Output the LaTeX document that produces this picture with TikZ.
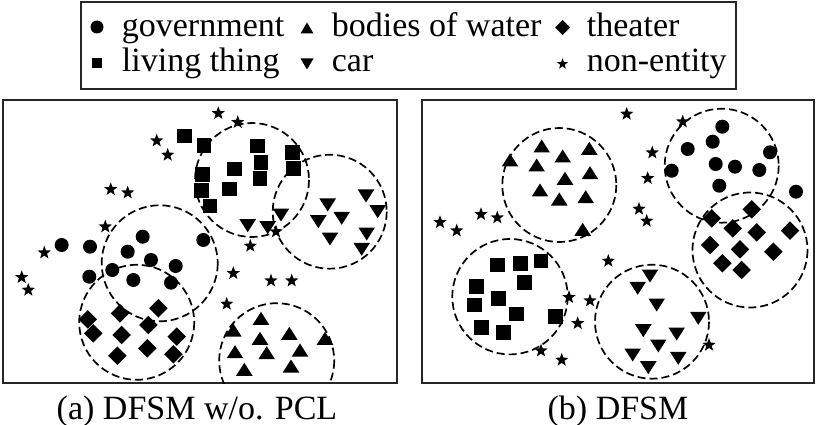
\documentclass[tikz,border=0pt]{standalone}
\usepackage{fontspec}
\setmainfont{Liberation Serif}
\usetikzlibrary{shapes.geometric}
\begin{document}
\begin{tikzpicture}[x=1pt,y=-1pt,
 mk/.style={fill=black, draw=none, inner sep=0pt, outer sep=0pt},
 mcirc/.style={mk, circle, minimum size=14pt},
 msq/.style={mk, rectangle, minimum size=14.5pt},
 mdia/.style={mk, diamond, minimum size=18.5pt},
 mstar/.style={mk, star, star points=5, star point ratio=2.4, minimum size=14pt},
 cluster/.style={draw=black, dash pattern=on 8pt off 4pt, line width=1.7pt},
 panel/.style={draw=black!85, line width=1.8pt},
 lab/.style={font=\fontsize{34}{40}\selectfont, inner sep=0pt, anchor=base west},
 captxt/.style={font=\fontsize{34}{40}\selectfont, inner sep=0pt, anchor=base},
]
\useasboundingbox (0,0) rectangle (817,425);
\def\upT#1#2#3#4{\fill (#1-#3,#2+#4) -- (#1+#3,#2+#4) -- (#1,#2-#4) -- cycle;}
\def\dnT#1#2#3#4{\fill (#1-#3,#2-#4) -- (#1+#3,#2-#4) -- (#1,#2+#4) -- cycle;}

% legend
\draw[panel] (81,2) rectangle (736,89);
\node[mcirc, minimum size=13pt] (lg1) at (97,27) {};
\node[lab] (lt1) at (121.7,36.5) {government};
\upT{307}{28}{6.5}{5.5}
\node[lab] (lt2) at (331.7,36.5) {bodies of water};
\node[mdia, minimum size=15pt] (lg3) at (562.5,27.5) {};
\node[lab] (lt3) at (586.7,36.5) {theater};
\node[msq, minimum size=10pt] (lg4) at (97,63.5) {};
\node[lab] (lt4) at (121.7,71.5) {living thing};
\dnT{307}{64}{6.5}{5.5}
\node[lab] (lt5) at (331.7,71.5) {car};
\node[mstar, minimum size=11.5pt] (lg6) at (562.5,64) {};
\node[lab] (lt6) at (586.7,71.5) {non-entity};

% panel (a)
\draw[panel] (3,100) rectangle (397,383);
\foreach \x/\y [count=\i] in {218.3/113.3, 237.7/122.3, 156.7/140.7, 167.7/155, 110.7/189.3, 127.7/192.7, 105.3/226.7, 44.3/252.7, 21.7/277.3, 28.3/290, 250.3/246, 233.3/273.3, 271/280.7, 291.7/280.7, 226.7/304, 276/231.7}
  \node[mstar] (as\i) at (\x,\y) {};
\foreach \x/\y [count=\i] in {184.3/136, 204/145.7, 257.7/146, 292.3/152.3, 234.3/169, 261/162.3, 293.3/168.3, 202.7/174.3, 260/178.3, 201.7/190.7, 229.3/189, 210/206}
  \node[msq] (aq\i) at (\x,\y) {};
\foreach \x/\y in {366/196, 327.7/205, 377.7/211.7, 281/215, 318.3/221.7, 341.7/218.3, 247.7/225.7, 267.7/227.7, 366.7/234, 330/239, 361.7/249.3}
  {\dnT{\x}{\y}{8.3}{6.5}}
\foreach \x/\y [count=\i] in {61.7/245, 90/246.7, 142.7/236.7, 203.3/240, 127.7/251.7, 151/260, 175.7/266, 112.3/270, 89.3/276.7, 133.3/280, 171/282.7}
  \node[mcirc] (ac\i) at (\x,\y) {};
\foreach \x/\y [count=\i] in {158.3/308.3, 120/313.3, 87.7/319.3, 148.3/325, 93.3/333.3, 121.7/335, 176.7/336.7, 147.3/348.3, 117.3/355.7, 173.3/354.3}
  \node[mdia] (am\i) at (\x,\y) {};
\foreach \x/\y in {261/318.3, 233.3/330, 289.3/333.3, 260/338.3, 325/338.3, 235/351.7, 266.7/352.7, 300/350, 244.3/369.3, 291/366}
  {\upT{\x}{\y}{8.3}{6.5}}
\begin{scope}
  \clip (3,100) rectangle (397,383);
  \draw[cluster] (252,180) circle (57);
  \draw[cluster] (329.7,211.7) circle (57);
  \draw[cluster] (159.7,263.3) circle (58);
  \draw[cluster] (136.7,322.3) circle (57.5);
  \draw[cluster] (276.7,360.7) circle (57.5);
\end{scope}

% panel (b)
\draw[panel] (422,100) rectangle (814,383);
\foreach \x/\y [count=\i] in {626.7/114, 682.7/121.7, 652.3/152.7, 647.7/178.3, 639/209, 646.7/221, 481/214.3, 497.3/217.7, 440/222.3, 456.7/230.7, 608.3/261, 569/297.3, 590/300.7, 577.7/323.3, 541/350.7, 561.7/360, 709/345}
  \node[mstar] (bs\i) at (\x,\y) {};
\foreach \x/\y in {510/160, 541.7/146, 562.7/156, 589.3/148.3, 536.7/165, 565/178.3, 590/172.7, 540/190, 559.3/199, 585.7/196.7, 582.7/229.3}
  {\upT{\x}{\y}{8.3}{6.5}}
\foreach \x/\y [count=\i] in {722.3/126.7, 687.7/149, 712.7/141.7, 770/152.3, 671.7/170.7, 715.7/164, 735/166.7, 759.3/170, 719.3/185.7, 796/191.7}
  \node[mcirc] (bc\i) at (\x,\y) {};
\foreach \x/\y [count=\i] in {751.7/209.3, 711.7/218.3, 732.7/228.3, 756.7/232.3, 790/230.7, 710/245, 740/249.3, 773.3/251.7, 722.3/263.3, 741.7/270}
  \node[mdia] (bm\i) at (\x,\y) {};
\foreach \x/\y [count=\i] in {497.7/265, 520.7/263.3, 541/261, 476.7/286.7, 524.3/282.7, 498.3/298.3, 474.3/305, 516.7/314, 555.7/316.7, 481.7/327.3, 503.3/332.7}
  \node[msq] (bq\i) at (\x,\y) {};
\foreach \x/\y in {650/276, 637.7/288.3, 656.7/305, 698.3/318.3, 643.3/330.7, 676.7/334, 658.3/346, 632.7/355, 678.3/358.3, 648.3/367.7}
  {\dnT{\x}{\y}{8.3}{6.5}}
\draw[cluster] (559.3,185) circle (57);
\draw[cluster] (721.7,165.7) circle (57);
\draw[cluster] (750,250) circle (57.5);
\draw[cluster] (510,296.7) circle (57.7);
\draw[cluster] (652,321.7) circle (57);

% captions
\node[captxt] (capa) at (197,419) {(a) DFSM w/o. PCL};
\node[captxt] (capb) at (618,419) {(b) DFSM};
\end{tikzpicture}
\end{document}
